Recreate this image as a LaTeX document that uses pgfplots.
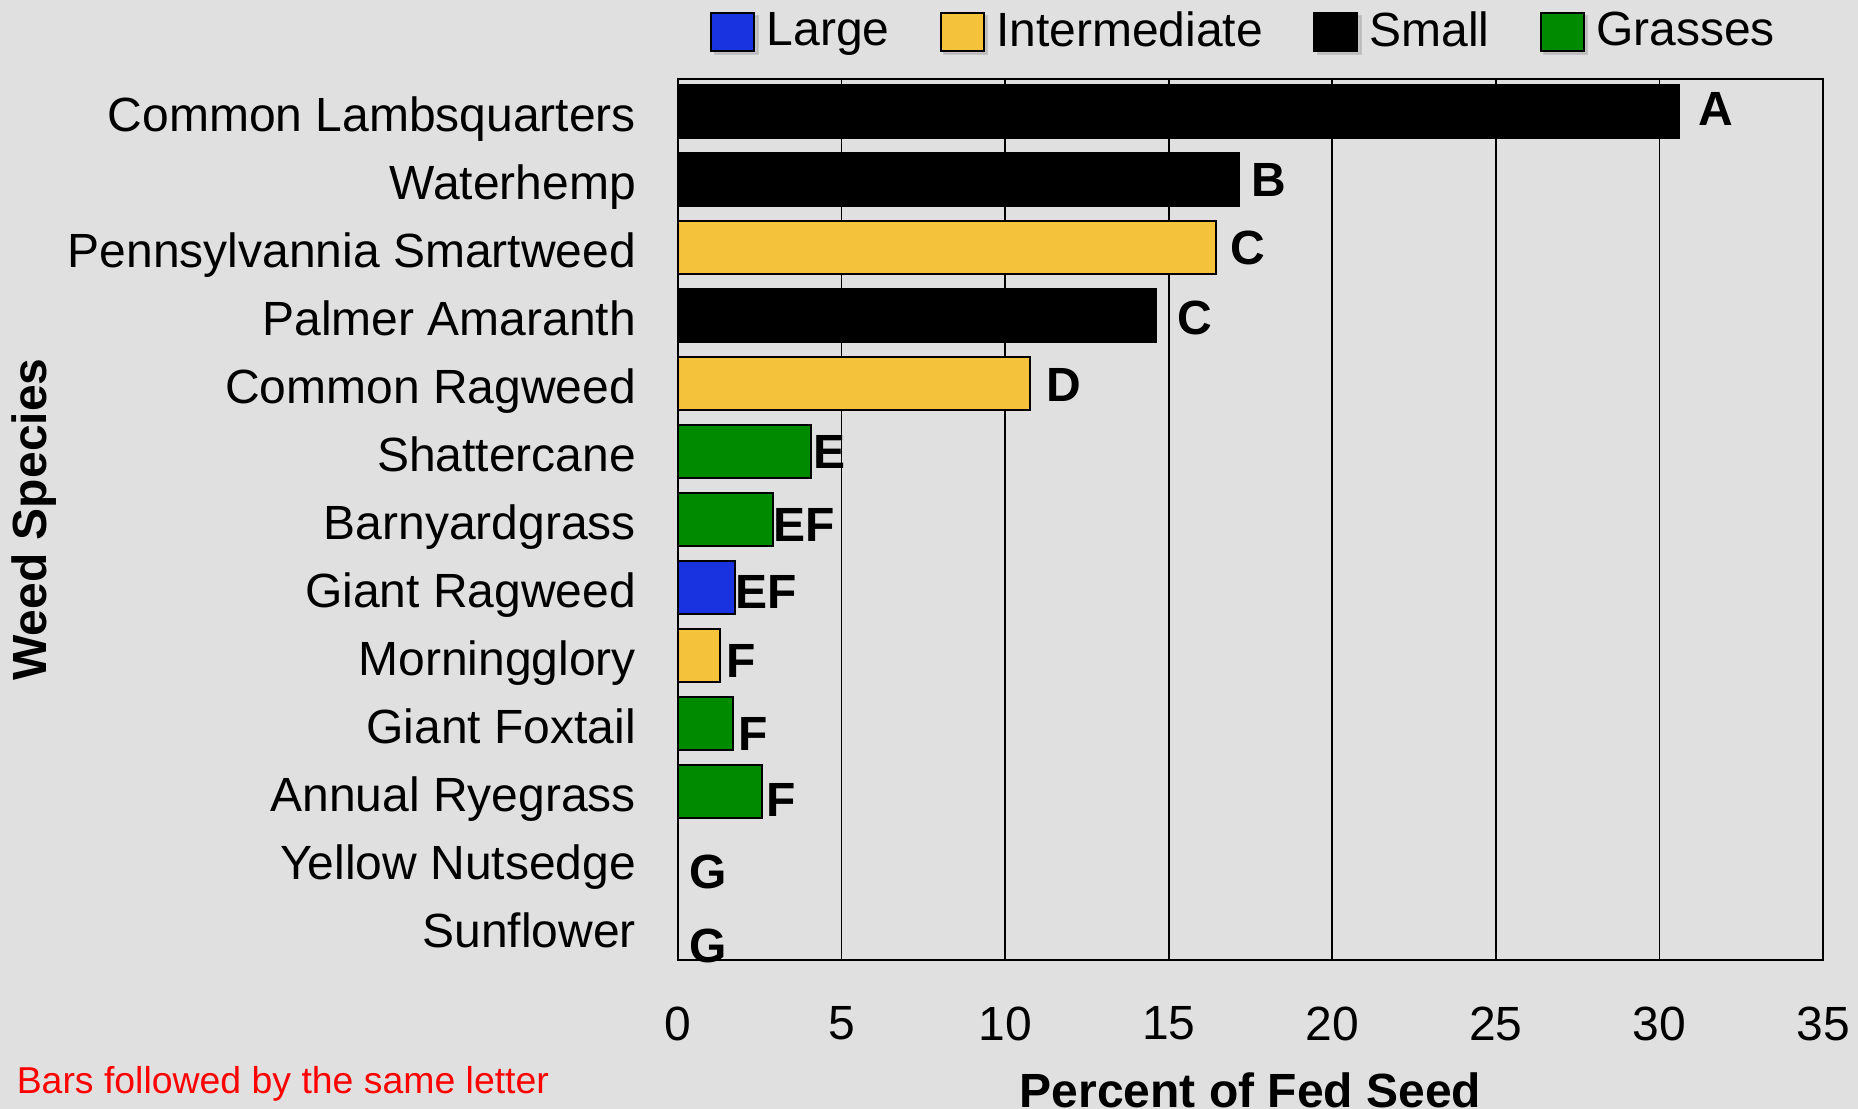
\documentclass[border=0pt]{standalone}
\usepackage{pgfplots}
\pgfplotsset{compat=1.18}
\usepackage{fontspec}
\setmainfont{Liberation Sans}
\definecolor{bg}{HTML}{E0E0E0}
\definecolor{cLarge}{HTML}{1A33E0}
\definecolor{cInter}{HTML}{F5C33B}
\definecolor{cSmall}{HTML}{000000}
\definecolor{cGrass}{HTML}{008A00}
\begin{document}
\begin{tikzpicture}
\useasboundingbox (-169.5pt,-37.25pt) rectangle (295pt,240pt);
\fill[bg] (-169.5pt,-37.25pt) rectangle (295pt,240pt);
\clip (-169.5pt,-37.25pt) rectangle (295pt,240pt);
\begin{axis}[
  scale only axis,
  width=286.25pt, height=220.25pt,
  xbar, bar shift=0pt, bar width=0.785,
  y dir=reverse,
  xmin=0, xmax=35, ymin=-0.48, ymax=12.48,
  xtick={0,5,...,35},
  ytick={0,...,12},
  yticklabels={Common Lambsquarters,Waterhemp,Pennsylvannia Smartweed,Palmer Amaranth,Common Ragweed,Shattercane,Barnyardgrass,Giant Ragweed,Morningglory,Giant Foxtail,Annual Ryegrass,Yellow Nutsedge,Sunflower},
  major tick length=0pt,
  /pgf/number format/assume math mode=true,
  tick label style={font=\fontsize{12}{14}\selectfont},
  yticklabel style={anchor=base east, inner sep=0pt, xshift=-10.3pt, yshift=-5pt},
  xticklabel style={anchor=north, inner sep=0pt, yshift=-11.5pt},
  xmajorgrids, grid style={black, line width=0.4pt},
  axis line style={line width=0.5pt},
  axis background/.style={fill=bg},
  xlabel={Percent of Fed Seed},
  xlabel style={font=\fontsize{12}{14}\selectfont\bfseries, at={(axis description cs:0.5,0)}, anchor=north, inner sep=0pt, yshift=-28pt},
  ylabel={Weed Species},
  ylabel style={font=\fontsize{12}{14}\selectfont\bfseries, at={(axis description cs:0,0.5)}, anchor=center, yshift=161pt, inner sep=0pt},
  every axis plot/.append style={draw=black, line width=0.5pt},
  legend image code/.code={%
    \fill[black!30, opacity=0.6] (0.9pt,-5.6pt) rectangle (11.65pt,3.9pt);
    \fill[#1] (0pt,-4.75pt) rectangle (10.75pt,4.75pt);},
  legend style={at={(0.5,1)}, anchor=center, yshift=11.4pt, xshift=-1pt,
    draw=none, fill=none, legend columns=-1,
    font=\fontsize{12}{14}\selectfont,
    nodes={inner xsep=2pt, inner ysep=0pt},
    /tikz/every even column/.append style={column sep=10.5pt}},
  clip=false,
]
\addplot[fill=cLarge] coordinates {(1.74,7) (0,12)};
\addlegendentry{Large}
\addplot[fill=cInter] coordinates {(16.45,2) (10.76,4) (1.27,8)};
\addlegendentry{Intermediate}
\addplot[fill=cSmall] coordinates {(30.6,0) (17.14,1) (14.6,3)};
\addlegendentry{Small}
\addplot[fill=cGrass] coordinates {(4.06,5) (2.9,6) (1.67,9) (2.57,10) (0,11)};
\addlegendentry{Grasses}
\begin{scope}[every node/.style={anchor=west, inner sep=0pt, font=\fontsize{12}{14}\selectfont\bfseries}]
\node at (axis cs:31.16,-0.04) {A};
\node at (axis cs:17.5,1.0) {B};
\node at (axis cs:16.85,2.0) {C};
\node at (axis cs:15.25,3.03) {C};
\node at (axis cs:11.23,4.02) {D};
\node at (axis cs:4.13,5.0) {E};
\node at (axis cs:2.9,6.08) {EF};
\node at (axis cs:1.74,7.07) {EF};
\node at (axis cs:1.45,8.08) {F};
\node at (axis cs:1.81,9.15) {F};
\node at (axis cs:2.68,10.12) {F};
\node at (axis cs:0.33,11.19) {G};
\node at (axis cs:0.33,12.27) {G};
\end{scope}
\end{axis}
\node[anchor=base west, inner sep=0pt, text=red, font=\fontsize{9.35}{11}\selectfont] at (-165.5pt,-33.5pt) {Bars followed by the same letter};
\end{tikzpicture}
\end{document}
